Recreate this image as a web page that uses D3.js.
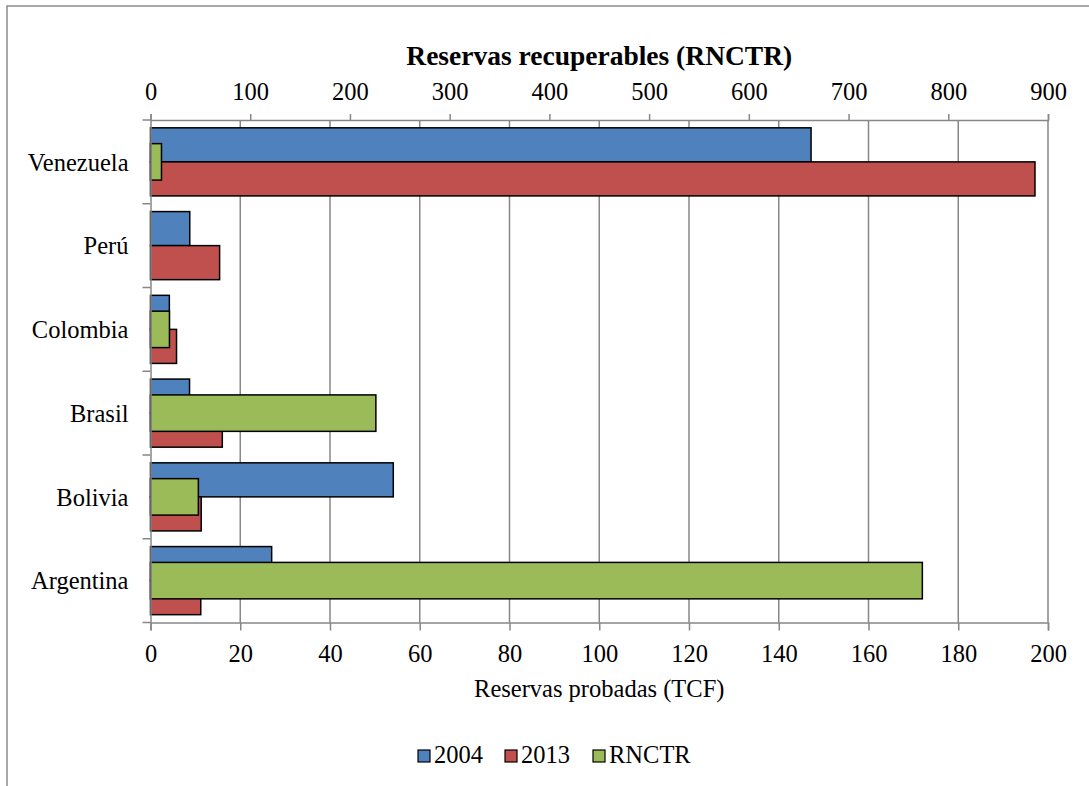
<!DOCTYPE html>
<html>
<head>
<meta charset="utf-8">
<script src="https://cdn.jsdelivr.net/npm/d3@7"></script>
<style>
  html, body { margin: 0; padding: 0; background: #fff; }
  svg { display: block; }
  svg text { font-family: "Liberation Serif", Tinos, "Times New Roman", Times, "DejaVu Serif", serif !important; fill: #000; }
</style>
</head>
<body>
<svg id="chart" width="1089" height="786"></svg>
<script>
// Gas reserves by country (TCF)
const categories = ["Argentina", "Bolivia", "Brasil", "Colombia", "Perú", "Venezuela"];
const proved2004 = [27.0, 54.1, 8.7, 4.2, 8.75, 147.2];
const proved2013 = [11.2, 11.3, 16.0, 5.8, 15.4, 197.1];
const rnctr = [774, 48, 226, 19, 0, 11];
const bottomTicks = [0, 20, 40, 60, 80, 100, 120, 140, 160, 180, 200];
const topTicks = [0, 100, 200, 300, 400, 500, 600, 700, 800, 900];
const seriesNames = ["2004", "2013", "RNCTR"];
const colors = ["#4F81BD", "#C0504D", "#9BBB59"];

const serif = '"Liberation Serif", Tinos, "Times New Roman", Times, "DejaVu Serif", serif';
const svg = d3.select("#chart");
const plotLeft = 150.5, plotRight = 1048, plotTop = 120, plotBottom = 622.5;

// Chart area frame
svg.append("rect")
  .attr("x", 7).attr("y", 6).attr("width", 1200).attr("height", 900)
  .attr("fill", "none").attr("stroke", "#8a8a8a").attr("stroke-width", 1.5);

const x = d3.scaleLinear().domain([0, 200]).range([plotLeft, plotRight]);
const x2 = d3.scaleLinear().domain([0, 900]).range([plotLeft, plotRight]);
// first category at the bottom
const y = d3.scaleBand().domain(categories).range([plotBottom, plotTop]).paddingInner(0).paddingOuter(0);
const pair = d3.scaleBand().domain(["2004", "2013"]).range([0, y.bandwidth()]).paddingOuter(0.23).paddingInner(0);
const greenH = y.bandwidth() * 0.435;

// vertical gridlines of the bottom axis
svg.append("g").selectAll("line").data(bottomTicks.slice(1)).join("line")
  .attr("x1", d => x(d)).attr("x2", d => x(d))
  .attr("y1", plotTop).attr("y2", plotBottom)
  .attr("stroke", "#878787").attr("stroke-width", 1.5);

// primary bars
const rows = categories.map((c, i) => ({ c, v04: proved2004[i], v13: proved2013[i], r: rnctr[i] }));
const g = svg.append("g");
rows.forEach(d => {
  g.append("rect")
    .attr("x", x(0)).attr("y", y(d.c) + pair("2004"))
    .attr("width", x(d.v04) - x(0)).attr("height", pair.bandwidth())
    .attr("fill", colors[0]).attr("stroke", "#000").attr("stroke-width", 1.5);
  g.append("rect")
    .attr("x", x(0)).attr("y", y(d.c) + pair("2013"))
    .attr("width", x(d.v13) - x(0)).attr("height", pair.bandwidth())
    .attr("fill", colors[1]).attr("stroke", "#000").attr("stroke-width", 1.5);
});
// secondary-axis bars (RNCTR)
rows.filter(d => d.r > 0).forEach(d => {
  g.append("rect")
    .attr("x", x2(0)).attr("y", y(d.c) + y.bandwidth() / 2 - greenH / 2)
    .attr("width", x2(d.r) - x2(0)).attr("height", greenH)
    .attr("fill", colors[2]).attr("stroke", "#000").attr("stroke-width", 1.5);
});

// bottom axis
const axB = svg.append("g").attr("transform", `translate(0,${plotBottom})`)
  .call(d3.axisBottom(x).tickValues(bottomTicks).tickSize(8).tickPadding(10).tickFormat(d3.format("d")));
axB.attr("font-family", serif);
axB.select(".domain").attr("stroke", "#878787").attr("stroke-width", 1.5);
axB.selectAll(".tick line").attr("stroke", "#878787").attr("stroke-width", 1.5);
axB.selectAll(".tick text").attr("font-size", 24.5).attr("dy", "0.86em");

// top (secondary) axis
const axT = svg.append("g").attr("transform", `translate(0,${plotTop})`)
  .call(d3.axisTop(x2).tickValues(topTicks).tickSize(6).tickPadding(6).tickFormat(d3.format("d")));
axT.attr("font-family", serif);
axT.select(".domain").attr("stroke", "#878787").attr("stroke-width", 1.5);
axT.selectAll(".tick line").attr("stroke", "#878787").attr("stroke-width", 1.5);
axT.selectAll(".tick text").attr("font-size", 24.5).attr("dy", "-0.33em");

// category axis
const axL = svg.append("g").attr("transform", `translate(${plotLeft},0)`)
  .call(d3.axisLeft(y).tickSize(0).tickPadding(22));
axL.attr("font-family", serif);
axL.select(".domain").attr("stroke", "#878787").attr("stroke-width", 1.5);
axL.selectAll(".tick text").attr("font-size", 24.5).attr("dy", "0.36em");
// boundary ticks between categories
const bounds = categories.map(c => y(c)).concat([plotBottom]);
svg.append("g").selectAll("line").data(bounds).join("line")
  .attr("x1", plotLeft - 8).attr("x2", plotLeft)
  .attr("y1", d => d).attr("y2", d => d)
  .attr("stroke", "#878787").attr("stroke-width", 1.5);

// titles
svg.append("text").attr("x", (plotLeft + plotRight) / 2).attr("y", 64.5)
  .attr("text-anchor", "middle").attr("font-size", 27.5).attr("font-weight", "bold")
  .attr("font-family", serif)
  .text("Reservas recuperables (RNCTR)");
svg.append("text").attr("x", (plotLeft + plotRight) / 2).attr("y", 696.5)
  .attr("text-anchor", "middle").attr("font-size", 24.5).attr("font-family", serif)
  .text("Reservas probadas (TCF)");

// legend
const legX = [418, 505, 593];
const leg = svg.append("g").attr("font-family", serif);
seriesNames.forEach((n, i) => {
  leg.append("rect").attr("x", legX[i]).attr("y", 750).attr("width", 12).attr("height", 12)
    .attr("fill", colors[i]).attr("stroke", "#000").attr("stroke-width", 1.2);
  leg.append("text").attr("x", legX[i] + 16).attr("y", 762.5).attr("font-size", 24.5).text(n);
});
</script>
</body>
</html>
